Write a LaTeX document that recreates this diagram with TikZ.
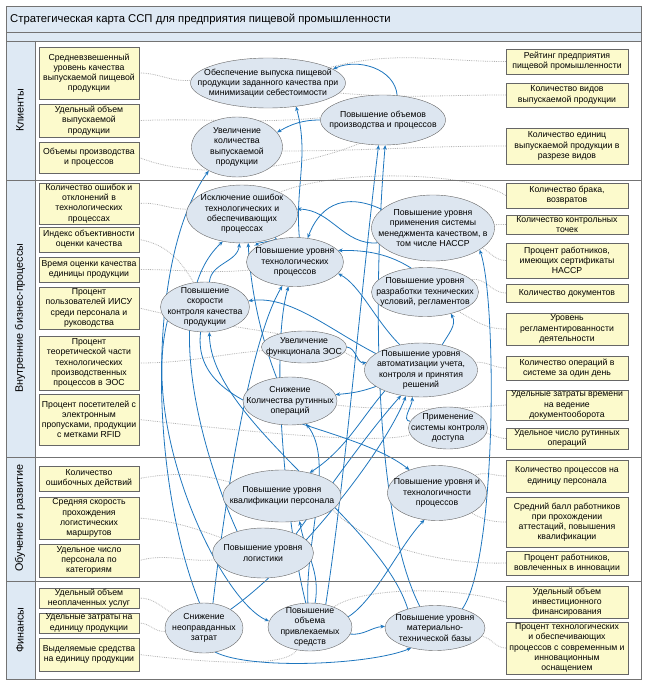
\documentclass[tikz,border=0pt]{standalone}
\usepackage{fontspec}
\setmainfont{Liberation Sans}
\usetikzlibrary{shapes.geometric,arrows.meta,backgrounds}

\definecolor{kpiyellow}{RGB}{252,250,204}
\definecolor{goalblue}{RGB}{221,230,240}
\definecolor{headblue}{RGB}{222,233,244}
\definecolor{linkblue}{RGB}{30,118,190}

\newcommand\mapfont{\fontsize{8.7}{10.2}\selectfont}

\tikzset{
  kpi/.style={draw=black!60, fill=kpiyellow, align=center, inner xsep=1pt, inner ysep=0.5pt, font=\mapfont},
  goal/.style={ellipse, draw=black!60, fill=goalblue, inner sep=0pt},
  goaltext/.style={align=center, font=\mapfont, inner sep=0pt},
  link/.style={->, >={Stealth[length=4.5pt,width=3.8pt]}, draw=linkblue, line width=0.8pt},
  meter/.style={draw=black!30, densely dotted, line width=0.8pt},
}

\begin{document}
\begin{tikzpicture}[x=1pt, y=1pt]
    \useasboundingbox (0,0) rectangle (650,-687);

    % Frame and lanes
    \fill[headblue] (6,-6) rectangle (641,-41);
    \fill[headblue] (6,-41) rectangle (35,-679);
    \draw[black!55, line width=0.8pt] (6,-6) rectangle (641,-679);
    \draw[black!55, line width=0.8pt] (6,-32) -- (641,-32);
    \draw[black!55, line width=0.8pt] (6,-41) -- (641,-41);
    \draw[black!55, line width=0.8pt] (6,-180) -- (641,-180);
    \draw[black!55, line width=0.8pt] (6,-457) -- (641,-457);
    \draw[black!55, line width=0.8pt] (6,-581) -- (641,-581);
    \draw[black!55, line width=0.8pt] (35,-41) -- (35,-679);

    \node[anchor=west, font=\fontsize{11.3}{13}\selectfont, inner sep=0pt] (title) at (10,-19) {Стратегическая карта ССП для предприятия пищевой промышленности};

    \node[rotate=90, font=\fontsize{10.8}{12}\selectfont] (laneC) at (20,-110) {Клиенты};
    \node[rotate=90, font=\fontsize{10.8}{12}\selectfont] (laneP) at (20,-318) {Внутренние бизнес-процессы};
    \node[rotate=90, font=\fontsize{10.8}{12}\selectfont] (laneL) at (20,-518) {Обучение и развитие};
    \node[rotate=90, font=\fontsize{10.8}{12}\selectfont] (laneF) at (20,-630) {Финансы};

    % Left indicators
    \node[kpi, minimum width=100pt, minimum height=52pt] (l1) at (89,-73) {Средневзвешенный\\уровень качества\\выпускаемой пищевой\\продукции};
    \node[kpi, minimum width=100pt, minimum height=33pt] (l2) at (89,-120.5) {Удельный объем\\выпускаемой\\продукции};
    \node[kpi, minimum width=100pt, minimum height=31pt] (l3) at (89,-157.5) {Объемы производства\\и процессов};
    \node[kpi, minimum width=100pt, minimum height=41pt] (l4) at (89,-203.5) {Количество ошибок и\\отклонений в\\технологических\\процессах};
    \node[kpi, minimum width=100pt, minimum height=25pt] (l5) at (89,-239.5) {Индекс объективности\\оценки качества};
    \node[kpi, minimum width=100pt, minimum height=25pt] (l6) at (89,-269.5) {Время оценки качества\\единицы продукции};
    \node[kpi, minimum width=100pt, minimum height=42pt] (l7) at (89,-308) {Процент\\пользователей ИИСУ\\среди персонала и\\руководства};
    \node[kpi, minimum width=100pt, minimum height=54pt] (l8) at (89,-363) {Процент\\теоретической части\\технологических\\производственных\\процессов в ЭОС};
    \node[kpi, minimum width=100pt, minimum height=51pt] (l9) at (89,-419.5) {Процент посетителей с\\электронным\\пропусками, продукции\\с метками RFID};
    \node[kpi, minimum width=100pt, minimum height=25pt] (l10) at (89,-478.5) {Количество\\ошибочных действий};
    \node[kpi, minimum width=100pt, minimum height=42pt] (l11) at (89,-518) {Средняя скорость\\прохождения\\логистических\\маршрутов};
    \node[kpi, minimum width=100pt, minimum height=33pt] (l12) at (89,-560.5) {Удельное число\\персонала по\\категориям};
    \node[kpi, minimum width=100pt, minimum height=20pt] (l13) at (89,-598) {Удельный объем\\неоплаченных услуг};
    \node[kpi, minimum width=100pt, minimum height=20pt] (l14) at (89,-623) {Удельные затраты на\\единицу продукции};
    \node[kpi, minimum width=100pt, minimum height=33pt] (l15) at (89,-654.5) {Выделяемые средства\\на единицу продукции};

    % Right indicators
    \node[kpi, minimum width=122pt, minimum height=25pt] (r1) at (567,-61.5) {Рейтинг предприятия\\пищевой промышленности};
    \node[kpi, minimum width=122pt, minimum height=24pt] (r2) at (567,-95) {Количество видов\\выпускаемой продукции};
    \node[kpi, minimum width=122pt, minimum height=36pt] (r3) at (567,-146) {Количество единиц\\выпускаемой продукции в\\разрезе видов};
    \node[kpi, minimum width=122pt, minimum height=25pt] (r4) at (567,-195.5) {Количество брака,\\возвратов};
    \node[kpi, minimum width=122pt, minimum height=19pt] (r5) at (567,-224.5) {Количество контрольных\\точек};
    \node[kpi, minimum width=122pt, minimum height=35pt] (r6) at (567,-260.5) {Процент работников,\\имеющих сертификаты\\НАССР};
    \node[kpi, minimum width=122pt, minimum height=18pt] (r7) at (567,-293) {Количество документов};
    \node[kpi, minimum width=122pt, minimum height=32pt] (r8) at (567,-329) {Уровень\\регламентированности\\деятельности};
    \node[kpi, minimum width=122pt, minimum height=24pt] (r9) at (567,-368) {Количество операций в\\системе за один день};
    \node[kpi, minimum width=122pt, minimum height=30pt] (r10) at (567,-405) {Удельные затраты времени\\на ведение\\документооборота};
    \node[kpi, minimum width=122pt, minimum height=21pt] (r11) at (567,-438.5) {Удельное число рутинных\\операций};
    \node[kpi, minimum width=122pt, minimum height=32pt] (r12) at (567,-476) {Количество процессов на\\единицу персонала};
    \node[kpi, minimum width=122pt, minimum height=50pt] (r13) at (567,-522) {Средний балл работников\\при прохождении\\аттестаций, повышения\\квалификации};
    \node[kpi, minimum width=122pt, minimum height=24pt] (r14) at (567,-563) {Процент работников,\\вовлеченных в инновации};
    \node[kpi, minimum width=122pt, minimum height=32pt] (r15) at (567,-602) {Удельный объем\\инвестиционного\\финансирования};
    \node[kpi, minimum width=122pt, minimum height=52pt] (r16) at (567,-648) {Процент технологических\\и обеспечивающих\\процессов с современным и\\инновационным\\оснащением};

    % Goals
    \node[goal, minimum width=155pt, minimum height=50pt, label={[goaltext]center:{Обеспечение выпуска пищевой\\продукции заданного качества при\\минимизации себестоимости}}] (e1) at (268,-83) {};
    \node[goal, minimum width=125pt, minimum height=50pt, label={[goaltext]center:{Повышение объемов\\производства и процессов}}] (e2) at (383,-120) {};
    \node[goal, minimum width=91pt, minimum height=60pt, label={[goaltext]center:{Увеличение\\количества\\выпускаемой\\продукции}}] (e3) at (237,-147) {};
    \node[goal, minimum width=111pt, minimum height=58pt, label={[goaltext]center:{Исключение ошибок\\технологических и\\обеспечивающих\\процессах}}] (e4) at (242,-214) {};
    \node[goal, minimum width=97pt, minimum height=49pt, label={[goaltext]center:{Повышение уровня\\технологических\\процессов}}] (e5) at (295,-262) {};
    \node[goal, minimum width=123pt, minimum height=66pt, label={[goaltext]center:{Повышение уровня\\применения системы\\менеджмента качеством, в\\том числе НАССР}}] (e6) at (433,-228) {};
    \node[goal, minimum width=107pt, minimum height=49pt, label={[goaltext]center:{Повышение уровня\\разработки технических\\условий, регламентов}}] (e7) at (425,-292) {};
    \node[goal, minimum width=89pt, minimum height=50pt, label={[goaltext]center:{Повышение\\скорости\\контроля качества\\продукции}}] (e8) at (205,-307) {};
    \node[goal, minimum width=85pt, minimum height=32pt, label={[goaltext]center:{Увеличение\\функционала ЭОС}}] (e9) at (304,-347) {};
    \node[goal, minimum width=113pt, minimum height=54pt, label={[goaltext]center:{Повышение уровня\\автоматизации учета,\\контроля и принятия\\решений}}] (e10) at (421,-370) {};
    \node[goal, minimum width=94pt, minimum height=48pt, label={[goaltext]center:{Снижение\\Количества рутинных\\операций}}] (e11) at (290,-401) {};
    \node[goal, minimum width=79pt, minimum height=42pt, label={[goaltext]center:{Применение\\системы контроля\\доступа}}] (e12) at (448,-428) {};
    \node[goal, minimum width=118pt, minimum height=52pt, label={[goaltext]center:{Повышение уровня\\квалификации персонала}}] (e13) at (282,-496) {};
    \node[goal, minimum width=99pt, minimum height=55pt, label={[goaltext]center:{Повышение уровня и\\технологичности\\процессов}}] (e14) at (437,-493) {};
    \node[goal, minimum width=101pt, minimum height=50pt, label={[goaltext]center:{Повышение уровня\\логистики}}] (e15) at (263,-553) {};
    \node[goal, minimum width=78pt, minimum height=50pt, label={[goaltext]center:{Снижение\\неоправданных\\затрат}}] (e16) at (204,-628) {};
    \node[goal, minimum width=84pt, minimum height=48pt, label={[goaltext]center:{Повышение\\объема\\привлекаемых\\средств}}] (e17) at (310,-627) {};
    \node[goal, minimum width=100pt, minimum height=45pt, label={[goaltext]center:{Повышение уровня\\материально-\\технической базы}}] (e18) at (435,-628) {};

    \begin{pgfonlayer}{background}
    % Indicators to goals
    \draw[meter] (l1.east) to[out=0,in=185] (e1.178);
    \draw[meter] (l2.east) to[out=2,in=185] (e2.178);
    \draw[meter] (l3.east) .. controls (200,-182) and (300,-168) .. (e2.-135);
    \draw[meter] (r1.west) to[out=180,in=15] (e1.14);
    \draw[meter] (r2.west) to[out=180,in=-5] (e1.-8);
    \draw[meter] (r3.west) to[out=180,in=0] (e3.-5);
    \draw[meter] (l4.east) to[out=5,in=180] (e4.175);
    \draw[meter] (l5.east) to[out=-10,in=120] (e8.115);
    \draw[meter] (l6.east) to[out=0,in=185] (e5.190);
    \draw[meter] (l7.east) .. controls (250,-335) and (320,-330) .. (e10.175);
    \draw[meter] (l8.east) to[out=0,in=185] (e9.185);
    \draw[meter] (l9.east) .. controls (250,-432) and (380,-445) .. (e12.190);
    \draw[meter] (r4.west) .. controls (470,-172) and (340,-168) .. (e4.30);
    \draw[meter] (r5.west) to[out=180,in=5] (e6.3);
    \draw[meter] (r6.west) to[out=180,in=-30] (e6.-22);
    \draw[meter] (r7.west) to[out=180,in=10] (e7.15);
    \draw[meter] (r8.west) to[out=180,in=-30] (e7.-30);
    \draw[meter] (r9.west) to[out=180,in=5] (e10.8);
    \draw[meter] (r10.west) .. controls (420,-412) and (360,-408) .. (e11.-5);
    \draw[meter] (r11.west) to[out=180,in=-10] (e12.-8);
    \draw[meter] (l10.east) to[out=10,in=165] (e13.165);
    \draw[meter] (l11.east) to[out=-5,in=160] (e15.160);
    \draw[meter] (l12.east) to[out=15,in=185] (e15.188);
    \draw[meter] (r12.west) to[out=180,in=20] (e14.25);
    \draw[meter] (r13.west) to[out=180,in=-30] (e14.-30);
    \draw[meter] (r14.west) .. controls (430,-565) and (360,-540) .. (e13.-15);
    \draw[meter] (l13.east) to[out=0,in=150] (e16.155);
    \draw[meter] (l14.east) to[out=0,in=185] (e16.185);
    \draw[meter] (l15.east) .. controls (250,-668) and (290,-662) .. (e17.-120);
    \draw[meter] (r15.west) .. controls (450,-585) and (360,-588) .. (e17.40);
    \draw[meter] (r16.west) to[out=180,in=-10] (e18.-10);

    % Links between goals
    \draw[link] (e2.60) to[out=95,in=25] (e1.12);
    \draw[link] (e2.180) to[out=180,in=30] (e3.20);
    \draw[link] (e5.80) to[out=95,in=-75] (e1.-40);
    \draw[link] (e17.55) .. controls (345,-480) and (360,-300) .. (e2.-100);
    \draw[link] (e18.125) .. controls (375,-520) and (372,-300) .. (e2.-85);
    \draw[link] (e18.35) .. controls (497,-560) and (497,-300) .. (e6.-25);
    \draw[link] (e16.100) .. controls (150,-480) and (145,-260) .. (e3.-140);
    \draw[link] (e8.80) to[out=85,in=-95] (e4.-95);
    \draw[link] (e11.120) .. controls (258,-330) and (250,-280) .. (e4.-78);
    \draw[link] (e4.-35) to[out=-30,in=160] (e5.155);
    \draw[link] (e15.140) .. controls (200,-450) and (160,-300) .. (e4.-125);
    \draw[link] (e16.70) .. controls (225,-500) and (250,-340) .. (e5.-118);
    \draw[link] (e17.100) .. controls (285,-520) and (270,-350) .. (e5.-105);
    \draw[link] (e6.160) .. controls (340,-190) and (318,-210) .. (e5.62);
    \draw[link] (e7.120) .. controls (390,-255) and (370,-250) .. (e5.15);
    \draw[link] (e10.130) .. controls (375,-320) and (360,-285) .. (e5.-15);
    \draw[link] (e6.195) to[out=185,in=0] (e4.5);
    \draw[link] (e10.160) .. controls (330,-330) and (290,-295) .. (e8.8);
    \draw[link] (e9.0) to[out=-5,in=190] (e10.172);
    \draw[link] (e10.200) to[out=200,in=5] (e11.8);
    \draw[link] (e12.170) to[out=175,in=-90] (e10.-108);
    \draw[link] (e10.50) to[out=60,in=-60] (e7.-40);
    \draw[link] (e15.30) .. controls (335,-480) and (370,-430) .. (e10.-128);
    \draw[link] (e16.35) .. controls (300,-560) and (385,-450) .. (e10.-120);
    \draw[link] (e17.95) .. controls (305,-540) and (335,-460) .. (e11.-55);
    \draw[link] (e10.-150) .. controls (360,-420) and (345,-450) .. (e13.40);
    \draw[link] (e8.-100) .. controls (190,-420) and (345,-420) .. (e14.140);
    \draw[link] (e17.78) to[out=80,in=-80] (e13.-55);
    \draw[link] (e17.15) .. controls (375,-600) and (400,-545) .. (e14.-115);
    \draw[link] (e17.-10) to[out=-5,in=185] (e18.178);
    \draw[link] (e16.-65) .. controls (250,-670) and (370,-665) .. (e18.-140);
    \draw[link] (e8.200) .. controls (140,-430) and (220,-600) .. (e17.172);
    \draw[link] (e18.145) .. controls (380,-520) and (210,-420) .. (e8.-80);
    \end{pgfonlayer}
\end{tikzpicture}
\end{document}
